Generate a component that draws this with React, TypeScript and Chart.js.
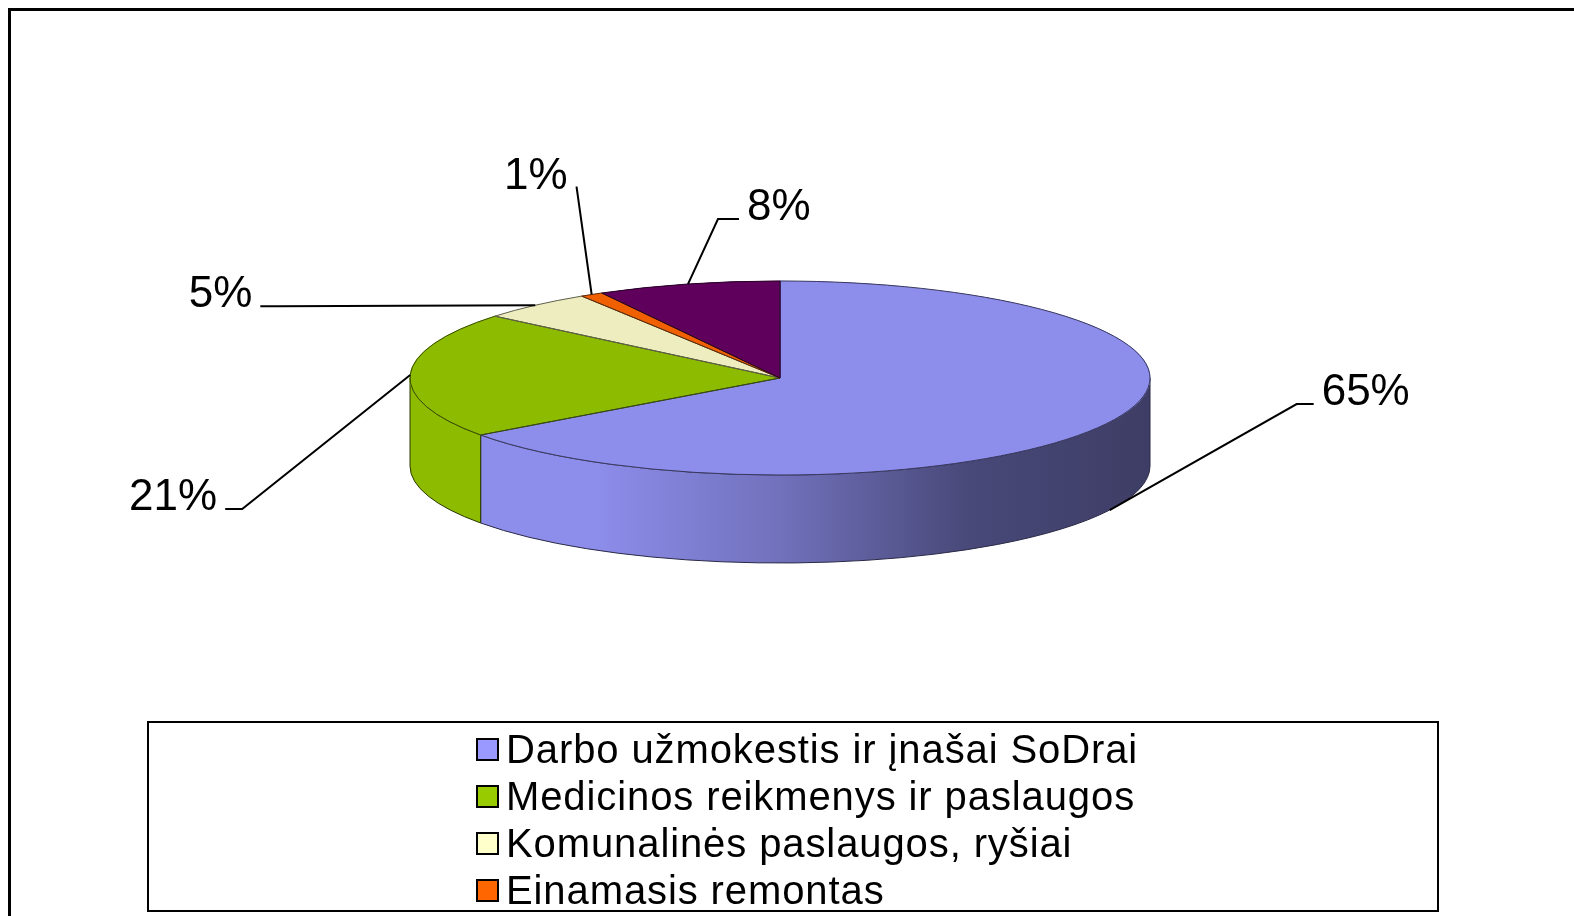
import React, { useEffect, useRef } from 'react';
import { Chart, registerables } from 'chart.js';

Chart.register(...registerables);

// ---- data ----
const categories = [
  'Darbo užmokestis ir įnašai SoDrai',
  'Medicinos reikmenys ir paslaugos',
  'Komunalinės paslaugos, ryšiai',
  'Einamasis remontas',
  'Kitos išlaidos',
];
const shares = [65, 21, 5, 1, 8];
const legendColors = ['#9999FF', '#99CC00', '#FFFFCC', '#FF6600', '#660066'];
const topColors = ['#8D8DEB', '#8DBB00', '#EDEDC0', '#F06000', '#5E005C'];

// ---- layout / style ----
const PIE = { cx: 780, cy: 378, rx: 370, ry: 97, depth: 88 };
const LABEL_DX = [212, -193, -283, -24, 59];
const LABEL_DY = [-105, 135, 2, -106, -64];
const ELBOW = [25, 25, 25, 9, 29];
const LIGHT: [number, number][] = [
  [0, 1.0],
  [0.25, 1.0],
  [0.5, 0.8],
  [0.75, 0.52],
  [1, 0.43],
];

function shade(hex: string, f: number) {
  const n = parseInt(hex.slice(1), 16);
  const r = Math.min(255, Math.round(((n >> 16) & 255) * f));
  const g = Math.min(255, Math.round(((n >> 8) & 255) * f));
  const b = Math.min(255, Math.round((n & 255) * f));
  return `rgb(${r},${g},${b})`;
}

const pie3d = {
  id: 'pie3d',
  beforeDatasetsDraw(chart: any) {
    const ctx = chart.ctx as CanvasRenderingContext2D;
    const arcs = chart.getDatasetMeta(0).data as any[];
    const { cx, cy, rx, ry, depth } = PIE;
    ctx.save();
    arcs.forEach((arc, i) => {
      const s = arc.startAngle;
      const e = arc.endAngle;
      for (const off of [-2 * Math.PI, 0, 2 * Math.PI]) {
        const a = Math.max(s, off);
        const b = Math.min(e, Math.PI + off);
        if (b - a > 1e-4) {
          const aa = a - off;
          const bb = b - off;
          ctx.beginPath();
          ctx.ellipse(cx, cy, rx, ry, 0, aa, bb, false);
          ctx.lineTo(cx + rx * Math.cos(bb), cy + ry * Math.sin(bb) + depth);
          ctx.ellipse(cx, cy + depth, rx, ry, 0, bb, aa, true);
          ctx.closePath();
          const g = ctx.createLinearGradient(cx - rx, 0, cx + rx, 0);
          LIGHT.forEach(([p, f]) => g.addColorStop(p, shade(topColors[i], f)));
          ctx.fillStyle = g;
          ctx.fill();
          ctx.strokeStyle = shade(topColors[i], 0.3);
          ctx.lineWidth = 1;
          ctx.stroke();
        }
      }
    });
    ctx.restore();
    // transform the library's circular pie into the ellipse of the top face
    const a0 = arcs[0];
    const R = a0.outerRadius;
    ctx.save();
    ctx.translate(cx, cy);
    ctx.scale(rx / R, ry / R);
    ctx.translate(-a0.x, -a0.y);
  },
  afterDatasetsDraw(chart: any) {
    const ctx = chart.ctx as CanvasRenderingContext2D;
    ctx.restore();
    const arcs = chart.getDatasetMeta(0).data as any[];
    const { cx, cy, rx, ry, depth } = PIE;
    const total = shares.reduce((a, b) => a + b, 0);
    ctx.save();
    // outlines of the top face
    arcs.forEach((arc, i) => {
      const s = arc.startAngle;
      const e = arc.endAngle;
      ctx.beginPath();
      ctx.moveTo(cx, cy);
      ctx.lineTo(cx + rx * Math.cos(s), cy + ry * Math.sin(s));
      ctx.ellipse(cx, cy, rx, ry, 0, s, e, false);
      ctx.closePath();
      ctx.strokeStyle = shade(topColors[i], 0.4);
      ctx.lineWidth = 1;
      ctx.stroke();
    });
    // data labels with leader lines
    ctx.font = '44px "Liberation Sans", Arial, sans-serif';
    ctx.textBaseline = 'alphabetic';
    ctx.fillStyle = '#000';
    ctx.strokeStyle = '#000';
    ctx.lineWidth = 2;
    arcs.forEach((arc, i) => {
      const mid = (arc.startAngle + arc.endAngle) / 2;
      const ax = cx + rx * Math.cos(mid);
      const ay = cy + ry * Math.sin(mid) + (Math.sin(mid) > 0.1 ? depth : 0);
      const tx = ax + LABEL_DX[i];
      const ty = ay + LABEL_DY[i];
      const right = LABEL_DX[i] > 0;
      const sign = right ? -1 : 1;
      ctx.beginPath();
      ctx.moveTo(ax, ay);
      ctx.lineTo(tx + sign * ELBOW[i], ty - 1);
      ctx.lineTo(tx + sign * 8, ty - 1);
      ctx.stroke();
      ctx.textAlign = right ? 'left' : 'right';
      ctx.fillText(Math.round((shares[i] / total) * 100) + '%', tx, ty);
    });
    ctx.restore();
  },
  afterDraw(chart: any) {
    const ctx = chart.ctx as CanvasRenderingContext2D;
    ctx.save();
    // outer chart border
    ctx.strokeStyle = '#000';
    ctx.lineWidth = 3;
    ctx.strokeRect(9.5, 9.5, 3000, 3000);
    // legend box
    ctx.lineWidth = 2;
    ctx.strokeRect(148, 722, 1290, 189);
    ctx.beginPath();
    ctx.rect(149, 723, 1288, 187);
    ctx.clip();
    const labels = chart.data.labels as string[];
    labels.forEach((lab, i) => {
      const y = 762 + 47 * i;
      ctx.fillStyle = legendColors[i];
      ctx.fillRect(477, y - 23, 21, 21);
      ctx.strokeStyle = '#000';
      ctx.lineWidth = 2;
      ctx.strokeRect(477, y - 23, 21, 21);
      ctx.fillStyle = '#000';
      ctx.font = '40px "Liberation Sans", Arial, sans-serif';
      (ctx as any).letterSpacing = '0.9px';
      ctx.textAlign = 'left';
      ctx.textBaseline = 'alphabetic';
      ctx.fillText(lab, 506, y + 1);
    });
    ctx.restore();
  },
};

export default function App() {
  const ref = useRef<HTMLCanvasElement | null>(null);
  useEffect(() => {
    if (!ref.current) return;
    const chart = new Chart(ref.current, {
      type: 'pie',
      data: {
        labels: categories,
        datasets: [
          {
            data: shares,
            backgroundColor: topColors,
            borderColor: topColors,
            borderWidth: 1,
          },
        ],
      },
      options: {
        responsive: false,
        animation: false,
        devicePixelRatio: 1,
        layout: { padding: { left: 410, right: 424, top: 8, bottom: 168 } },
        plugins: {
          legend: { display: false },
          tooltip: { enabled: false },
        },
      },
      plugins: [pie3d],
    });
    return () => chart.destroy();
  }, []);
  return (
    <div
      style={{
        position: 'fixed',
        left: 0,
        top: 0,
        width: 1574,
        height: 916,
        overflow: 'hidden',
        background: '#fff',
      }}
    >
      <canvas ref={ref} width={1574} height={916} style={{ display: 'block' }} />
    </div>
  );
}
